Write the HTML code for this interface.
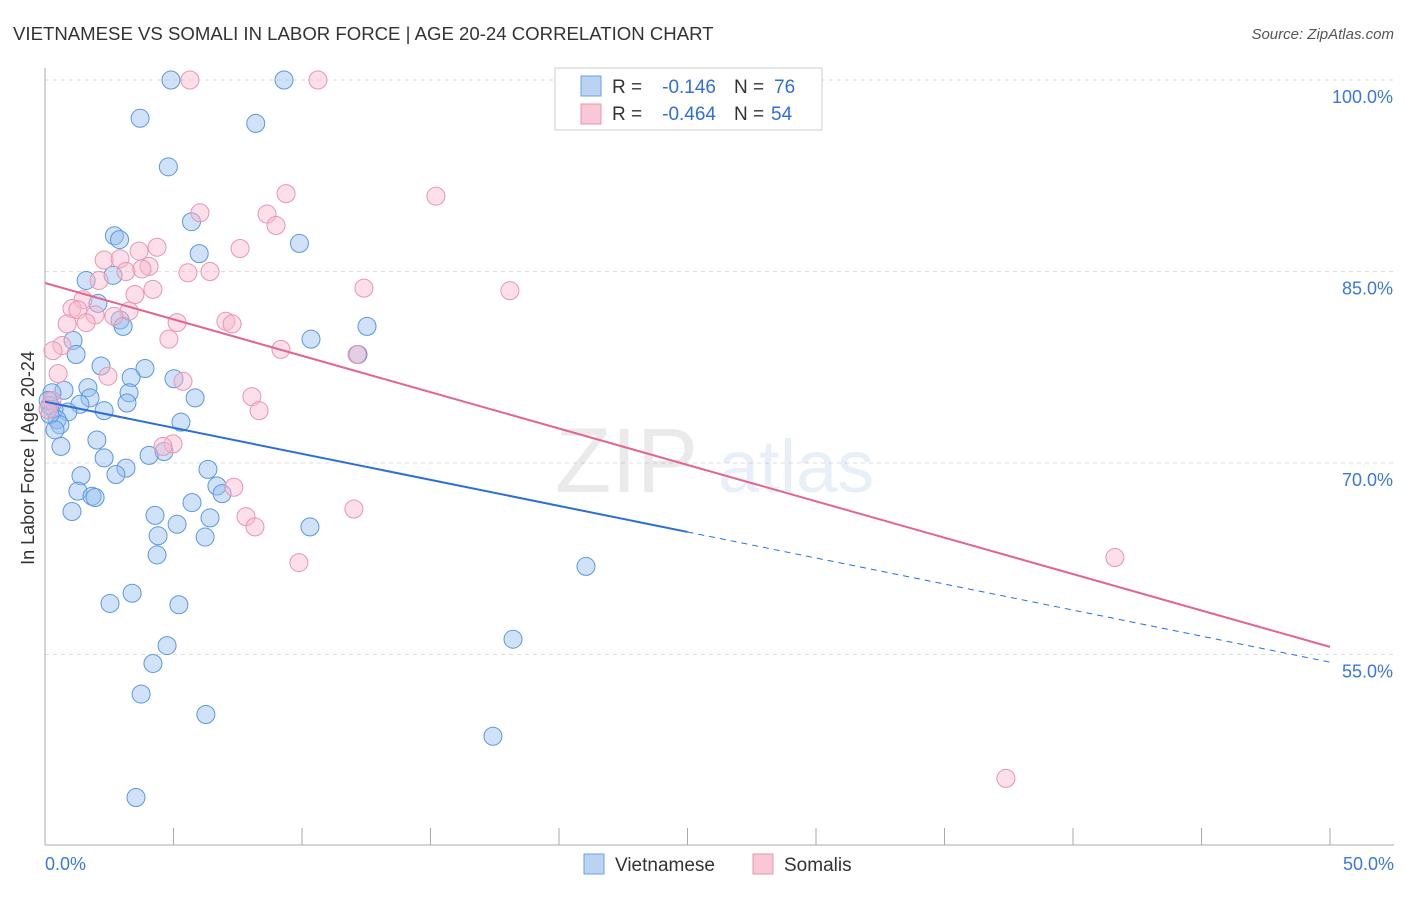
<!DOCTYPE html>
<html><head><meta charset="utf-8"><style>
body{margin:0;background:#fff;font-family:"Liberation Sans",sans-serif;}
svg text{font-family:"Liberation Sans",sans-serif;}
</style></head><body>
<svg id="chart" width="1406" height="892" viewBox="0 0 1406 892" xmlns="http://www.w3.org/2000/svg">
<text x="13" y="40" font-size="18.6" fill="#333">VIETNAMESE VS SOMALI IN LABOR FORCE | AGE 20-24 CORRELATION CHART</text>
<text x="1394" y="39" font-size="15" fill="#555" font-style="italic" text-anchor="end">Source: ZipAtlas.com</text>
<g id="grid"></g>
<g opacity="0.13">
<text x="555" y="492" font-size="92" font-family="Liberation Serif" fill="#666">ZIP</text>
<text x="718" y="492" font-size="74" fill="#5a8ad0">atlas</text>
</g>
<text transform="translate(34,458) rotate(-90)" font-size="18" fill="#333" text-anchor="middle">In Labor Force | Age 20-24</text>
<g id="points"></g>
<g id="lines"></g>
<g>
<rect x="555" y="68" width="267" height="62" fill="#fff" stroke="#ccc"/>
<rect x="581" y="76" width="20" height="20" fill="#b9d3f3" stroke="#6fa1e2"/>
<rect x="581" y="104" width="20" height="20" fill="#f9c8d6" stroke="#e994b0"/>
<text x="612" y="93" font-size="19" fill="#333">R =</text>
<text x="716" y="93" font-size="19" fill="#2f6fd6" text-anchor="end">-0.146</text>
<text x="734" y="93" font-size="19" fill="#333">N =</text>
<text x="774" y="93" font-size="19" fill="#2f6fd6">76</text>
<text x="612" y="120" font-size="19" fill="#333">R =</text>
<text x="716" y="120" font-size="19" fill="#2f6fd6" text-anchor="end">-0.464</text>
<text x="734" y="120" font-size="19" fill="#333">N =</text>
<text x="771" y="120" font-size="19" fill="#2f6fd6">54</text>
</g>
<g>
<rect x="584" y="854" width="20" height="20" fill="#b9d3f3" stroke="#6fa1e2"/>
<text x="615" y="871" font-size="19" fill="#333">Vietnamese</text>
<rect x="753" y="854" width="20" height="20" fill="#f9c8d6" stroke="#e994b0"/>
<text x="784" y="871" font-size="19" fill="#333">Somalis</text>
</g>
</svg>
<script>
const yTicks=[100,85,70,55];
const xTickLabels=["0.0%","50.0%"];
const blueX=[4.9,9.3,3.7,8.2,4.8,5.7,2.7,2.9,9.9,6.0,2.65,1.6,2.06,2.92,3.04,10.35,12.53,12.18,1.09,1.21,2.18,3.89,3.35,5.02,1.67,0.74,0.27,1.75,3.27,3.19,5.84,1.36,0.89,2.3,0.35,0.19,0.47,0.58,5.29,2.02,0.62,2.3,4.63,4.05,3.15,6.34,2.76,1.4,1.28,6.69,6.89,1.83,1.95,1.05,5.72,4.28,6.42,5.14,10.31,4.4,6.23,4.36,21.05,3.39,2.53,5.21,18.21,4.75,4.2,3.74,6.26,17.43,3.54,0.12,0.19,0.39];
const blueY=[100,100,97.0,96.6,93.2,88.9,87.8,87.5,87.2,86.4,84.7,84.3,82.5,81.2,80.7,79.7,80.7,78.5,79.6,78.5,77.6,77.4,76.7,76.6,75.9,75.7,75.5,75.1,75.5,74.7,75.1,74.6,74.0,74.1,74.2,74.5,73.4,73.0,73.2,71.8,71.3,70.4,70.9,70.6,69.6,69.5,69.1,69.0,67.8,68.2,67.6,67.4,67.3,66.2,66.9,65.9,65.7,65.2,65.0,64.3,64.2,62.8,61.9,59.8,59.0,58.9,56.2,55.7,54.3,51.9,50.3,48.6,43.8,74.9,73.8,72.6];
const pinkX=[5.64,10.62,9.38,15.21,6.03,8.64,8.99,7.59,4.36,3.66,2.3,2.92,4.05,5.56,6.42,3.15,3.77,2.1,12.41,4.2,3.5,18.09,1.48,1.05,1.28,1.95,3.27,2.68,1.6,0.86,5.14,7.04,7.28,4.82,9.18,12.14,0.66,0.31,2.45,0.51,5.37,8.05,8.33,4.98,4.59,7.35,12.02,7.82,8.17,9.88,41.63,37.39,0.27,0.12];
const pinkY=[100,100,91.1,90.9,89.6,89.5,88.6,86.8,86.9,86.6,85.9,86.0,85.4,84.9,85.0,85.0,85.2,84.3,83.7,83.6,83.2,83.5,82.8,82.1,82.0,81.6,81.9,81.5,81.0,80.9,81.0,81.1,80.9,79.7,78.9,78.5,79.2,78.8,76.8,77.0,76.4,75.2,74.1,71.5,71.3,68.1,66.4,65.8,65.0,62.2,62.6,45.3,74.9,74.2];
const blueTrend=[74.8,54.4];
const pinkTrend=[84.1,55.6];
const X0=45,X1=1330,Y100=80,PXPER=12.767;
const sx=v=>X0+(X1-X0)*v/50;
const sy=v=>Y100+(100-v)*PXPER;
const NS="http://www.w3.org/2000/svg";
function mk(tag,attrs,parent){const e=document.createElementNS(NS,tag);for(const k in attrs)e.setAttribute(k,attrs[k]);parent.appendChild(e);return e;}
const grid=document.getElementById('grid');
yTicks.forEach(t=>{
  const l=mk('line',{x1:45,x2:1394,y1:sy(t),y2:sy(t),stroke:'#ddd','stroke-dasharray':'4,4'},grid);
  
  
  const tx=mk('text',{x:1393,y:sy(t)+23,'font-size':18,fill:'#3b78d8','text-anchor':'end'},grid);
  tx.textContent=t.toFixed(1)+'%';
  
  
});
const ax=mk('line',{x1:45,x2:45,y1:68,y2:845,stroke:'#aaa'},grid);


const bx=mk('line',{x1:45,x2:1394,y1:845,y2:845,stroke:'#aaa'},grid);


for(let i=0;i<=10;i++){
  const tk=mk('line',{x1:sx(i*5),x2:sx(i*5),y1:828,y2:845,stroke:'#aaa'},grid);
  
  
}
[[0,'start',45],[1,'end',1394]].forEach(([i,a,x])=>{
  const t=mk('text',{x:x,y:870,'font-size':18,fill:'#3b78d8','text-anchor':a},grid);
  t.textContent=xTickLabels[i];
  
  
});
const pts=document.getElementById('points');
blueX.forEach((v,i)=>{
  const c=mk('circle',{cx:sx(v),cy:sy(blueY[i]),r:9,fill:'rgba(150,190,240,0.45)',stroke:'#5b97e0','stroke-width':1},pts);
  
  
});
pinkX.forEach((v,i)=>{
  const c=mk('circle',{cx:sx(v),cy:sy(pinkY[i]),r:9,fill:'rgba(248,185,205,0.45)',stroke:'#e995b2','stroke-width':1},pts);
  
  
});
const lines=document.getElementById('lines');
const bAt=x=>blueTrend[0]+(blueTrend[1]-blueTrend[0])*x/50;
const l1=mk('line',{x1:sx(0),y1:sy(bAt(0)),x2:sx(25),y2:sy(bAt(25)),stroke:'#2a6fd8','stroke-width':2},lines);


const l2=mk('line',{x1:sx(25),y1:sy(bAt(25)),x2:sx(50),y2:sy(bAt(50)),stroke:'#2a6fd8','stroke-width':1,'stroke-dasharray':'6,5'},lines);


const l3=mk('line',{x1:sx(0),y1:sy(pinkTrend[0]),x2:sx(50),y2:sy(pinkTrend[1]),stroke:'#e2658f','stroke-width':2},lines);


</script>
</body></html>
